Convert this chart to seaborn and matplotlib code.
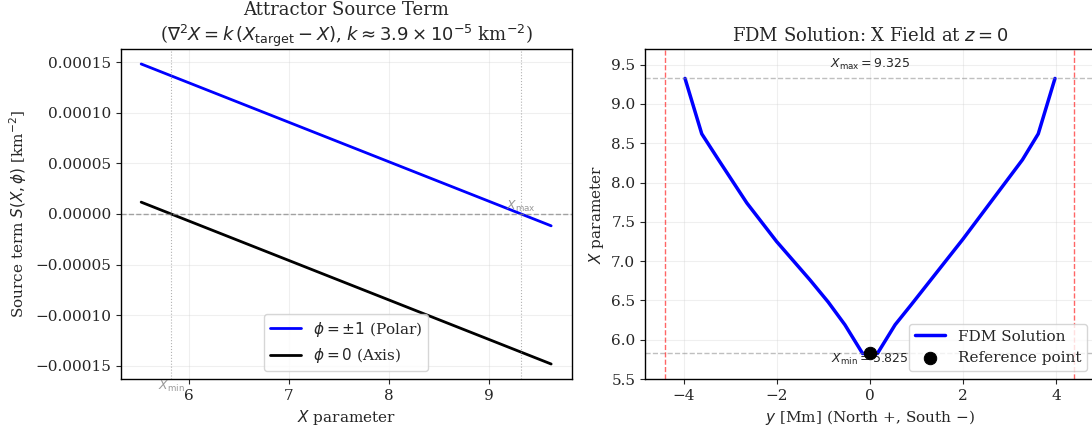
import numpy as np
import pandas as pd
import matplotlib
matplotlib.use('Agg')
import matplotlib.pyplot as plt
import seaborn as sns

# left panel: source term vs X
x_param = [5.525, 9.625]
s_polar = [1.482e-4, -1.17e-5]
s_axis = [1.17e-5, -1.482e-4]
x_min_val = 5.825
x_max_val = 9.325

# right panel: FDM solution along y at z=0
y_mm = [-3.98, -3.62, -3.26, -2.65, -2.01, -1.29, -0.90, -0.54, -0.16,
        0.16, 0.54, 0.88, 2.00, 2.90, 3.28, 3.62, 3.98]
x_field = [9.325, 8.62, 8.29, 7.74, 7.25, 6.76, 6.48, 6.19, 5.825,
           5.825, 6.19, 6.44, 7.28, 7.99, 8.29, 8.62, 9.325]
ref_y = [0.0]
ref_x = [5.825]
boundary = 4.4

sns.set_style('white')
plt.rcParams['font.family'] = ['DejaVu Serif']
plt.rcParams['mathtext.fontset'] = 'dejavusans'
plt.rcParams['font.size'] = 11

fig = plt.figure(figsize=(10.92, 4.36), dpi=100)
ax1 = fig.add_axes([0.1105, 0.1307, 0.413, 0.757])
ax2 = fig.add_axes([0.5907, 0.1307, 0.412, 0.757])

for ax in (ax1, ax2):
    for s in ax.spines.values():
        s.set_color('black')
        s.set_linewidth(1.0)
    ax.tick_params(axis='both', which='both', direction='out', length=3.5,
                   width=0.8, left=True, bottom=True, labelsize=11)
    ax.grid(True, alpha=0.3)

# ---- left panel
df_src = pd.DataFrame({'X': x_param * 2,
                       'S': s_polar + s_axis,
                       'case': ['$\\phi = \\pm 1$ (Polar)'] * 2 + ['$\\phi = 0$ (Axis)'] * 2})
sns.lineplot(data=df_src, x='X', y='S', hue='case',
             palette=['blue', 'black'], lw=2, ax=ax1)
ax1.axhline(0, color='gray', ls='--', lw=1, alpha=0.7)
ax1.axvline(x_min_val, color='gray', ls=':', lw=0.8, alpha=0.6)
ax1.axvline(x_max_val, color='gray', ls=':', lw=0.8, alpha=0.6)
ax1.set_xlabel('$X$ parameter', fontsize=11)
ax1.set_ylabel('Source term $S(X, \\phi)$ [km$^{-2}$]', fontsize=11)
ax1.set_title('Attractor Source Term\n($\\nabla^2 X = k\\,(X_{\\mathrm{target}} - X)$, '
              '$k \\approx 3.9 \\times 10^{-5}$ km$^{-2}$)', fontsize=13)
ylo = ax1.get_ylim()[0]
ax1.text(x_min_val, ylo, '$X_{\\min}$', ha='center', va='top', color='gray',
         fontsize=9, family='DejaVu Sans', alpha=0.8)
ax1.text(x_max_val, 0, '$X_{\\max}$', ha='center', va='bottom', color='gray',
         fontsize=9, family='DejaVu Sans', alpha=0.8)
ax1.legend(loc='lower center', fontsize=11)

# ---- right panel
sns.lineplot(x=y_mm, y=x_field, sort=False, color='blue', lw=2.5,
             label='FDM Solution', ax=ax2)
sns.scatterplot(x=ref_y, y=ref_x, color='black', s=80, zorder=5,
                edgecolor='black', label='Reference point', ax=ax2)
ax2.axhline(x_max_val, color='gray', ls='--', lw=1, alpha=0.5)
ax2.axhline(x_min_val, color='gray', ls='--', lw=1, alpha=0.5)
ax2.axvline(-boundary, color='red', ls='--', lw=1, alpha=0.6)
ax2.axvline(boundary, color='red', ls='--', lw=1, alpha=0.6)
ax2.text(0, x_max_val + 0.175, '$X_{\\max} = 9.325$', ha='center', va='center',
         fontsize=9, family='DejaVu Sans')
ax2.text(0, x_min_val - 0.08, '$X_{\\min} = 5.825$', ha='center', va='center',
         fontsize=9, family='DejaVu Sans')
ax2.set_xlim(-1.1 * boundary, 1.1 * boundary)
ax2.set_ylim(5.5, 9.7)
ax2.set_xlabel('$y$ [Mm] (North +, South $-$)', fontsize=11)
ax2.set_ylabel('$X$ parameter', fontsize=11)
ax2.set_title('FDM Solution: X Field at $z = 0$', fontsize=13)
ax2.legend(loc='lower right', fontsize=11)

fig.savefig('out.png', dpi=100)
